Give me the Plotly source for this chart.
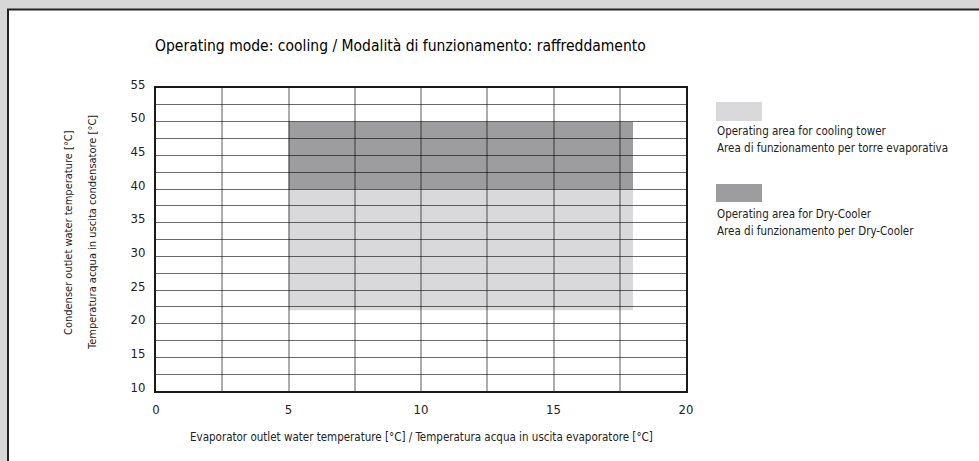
import numpy as np
import plotly.graph_objects as go

# ---- data ----
x_tick_vals = [0, 5, 10, 15, 20]
x_tick_text = ["0", "5", "10", "15", "20"]
y_tick_vals = [10, 15, 20, 25, 30, 35, 40, 45, 50, 55]
y_tick_text = ["10", "15", "20", "25", "30", "35", "40", "45", "50", "55"]
grid_step = 2.5

cooling_tower_x = [5, 18]
cooling_tower_y = [22, 40]
dry_cooler_x = [5, 18]
dry_cooler_y = [40, 50]

title_text = "Operating mode: cooling / Modalità di funzionamento: raffreddamento"
x_title = "Evaporator outlet water temperature [°C] / Temperatura acqua in uscita evaporatore [°C]"
y_title_lines = ["Condenser outlet water temperature [°C]",
                 "Temperatura acqua in uscita condensatore [°C]"]
legend_cooling = ["Operating area for cooling tower",
                  "Area di funzionamento per torre evaporativa"]
legend_dry = ["Operating area for Dry-Cooler",
              "Area di funzionamento per Dry-Cooler"]

LIGHT = "#d9d9db"
DARK = "#9d9d9f"
FONT = "DejaVu Sans Condensed, Liberation Sans Narrow, sans-serif"
TXT = "#222222"

# ---- layout geometry (pixels) ----
W, H = 979, 461
L, R, T, B = 156, 293, 88, 70
pw, ph = W - L - R, H - T - B


def px_x(px):
    return (px - L) / pw


def px_y(py):
    return (H - B - py) / ph


fig = go.Figure()

# invisible trace to establish axes
fig.add_trace(go.Scatter(x=[x_tick_vals[0], x_tick_vals[-1]],
                         y=[y_tick_vals[0], y_tick_vals[-1]],
                         mode="markers", marker=dict(opacity=0),
                         hoverinfo="skip", showlegend=False))

shapes = []
# white card with dark border on top/left
shapes.append(dict(type="rect", xref="paper", yref="paper",
                   x0=px_x(8), x1=px_x(1000), y0=px_y(480), y1=px_y(9.5),
                   fillcolor="white", line=dict(color="#222222", width=2),
                   layer="below"))
# operating areas
shapes.append(dict(type="rect", xref="x", yref="y",
                   x0=cooling_tower_x[0], x1=cooling_tower_x[1],
                   y0=cooling_tower_y[0], y1=cooling_tower_y[1],
                   fillcolor=LIGHT, line=dict(width=0), layer="below"))
shapes.append(dict(type="rect", xref="x", yref="y",
                   x0=dry_cooler_x[0], x1=dry_cooler_x[1],
                   y0=dry_cooler_y[0], y1=dry_cooler_y[1],
                   fillcolor=DARK, line=dict(width=0), layer="below"))
# legend swatches
shapes.append(dict(type="rect", xref="paper", yref="paper",
                   x0=px_x(716), x1=px_x(762), y0=px_y(121), y1=px_y(102),
                   fillcolor=LIGHT, line=dict(width=0)))
shapes.append(dict(type="rect", xref="paper", yref="paper",
                   x0=px_x(716), x1=px_x(762), y0=px_y(202), y1=px_y(184),
                   fillcolor=DARK, line=dict(width=0)))

annotations = []
annotations.append(dict(text=title_text, xref="paper", yref="paper",
                        x=px_x(153), y=px_y(46), xanchor="left", yanchor="middle",
                        showarrow=False, font=dict(size=15.5, color="#000000", family=FONT)))
annotations.append(dict(text=x_title, xref="paper", yref="paper",
                        x=px_x(421), y=px_y(437), xanchor="center", yanchor="middle",
                        showarrow=False, font=dict(size=11.5, color=TXT, family=FONT)))
for i, (line, cx) in enumerate(zip(y_title_lines, [68, 92])):
    annotations.append(dict(text=line, xref="paper", yref="paper",
                            x=px_x(cx), y=px_y(233), xanchor="center", yanchor="middle",
                            textangle=-90, showarrow=False,
                            font=dict(size=11, color=TXT, family=FONT)))
for line, cy in zip(legend_cooling + legend_dry, [131, 148, 214, 231]):
    annotations.append(dict(text=line, xref="paper", yref="paper",
                            x=px_x(715), y=px_y(cy), xanchor="left", yanchor="middle",
                            showarrow=False, font=dict(size=11.5, color=TXT, family=FONT)))

grid_vals_x = list(np.arange(x_tick_vals[0], x_tick_vals[-1] + 0.01, grid_step))
grid_vals_y = list(np.arange(y_tick_vals[0], y_tick_vals[-1] + 0.01, grid_step))

fig.update_layout(
    width=W, height=H,
    margin=dict(l=L, r=R, t=T, b=B),
    paper_bgcolor="#d7d7d7",
    plot_bgcolor="rgba(0,0,0,0)",
    showlegend=False,
    shapes=shapes,
    annotations=annotations,
    font=dict(family=FONT, color=TXT, size=13),
    xaxis=dict(range=[x_tick_vals[0], x_tick_vals[-1]],
               tickvals=grid_vals_x,
               ticktext=[x_tick_text[x_tick_vals.index(v)] if v in x_tick_vals else "" for v in grid_vals_x],
               showgrid=True, gridcolor="rgba(0,0,0,0.32)", gridwidth=2,
               showline=True, mirror=True, linecolor="#1a1a1a", linewidth=2,
               ticks="", ticklabelstandoff=5, zeroline=False,
               tickfont=dict(size=13, color=TXT, family=FONT), fixedrange=True),
    yaxis=dict(range=[y_tick_vals[0], y_tick_vals[-1]],
               tickvals=grid_vals_y,
               ticktext=[y_tick_text[y_tick_vals.index(v)] if v in y_tick_vals else "" for v in grid_vals_y],
               showgrid=True, gridcolor="rgba(0,0,0,0.58)", gridwidth=1.3,
               showline=True, mirror=True, linecolor="#1a1a1a", linewidth=2,
               ticks="", ticklabelstandoff=6, ticklabelshift=-4, zeroline=False,
               tickfont=dict(size=13, color=TXT, family=FONT), fixedrange=True),
)

fig.write_html("out.html", config={"displayModeBar": False},
               post_script="document.body.style.margin='0';document.body.style.background='white';")
